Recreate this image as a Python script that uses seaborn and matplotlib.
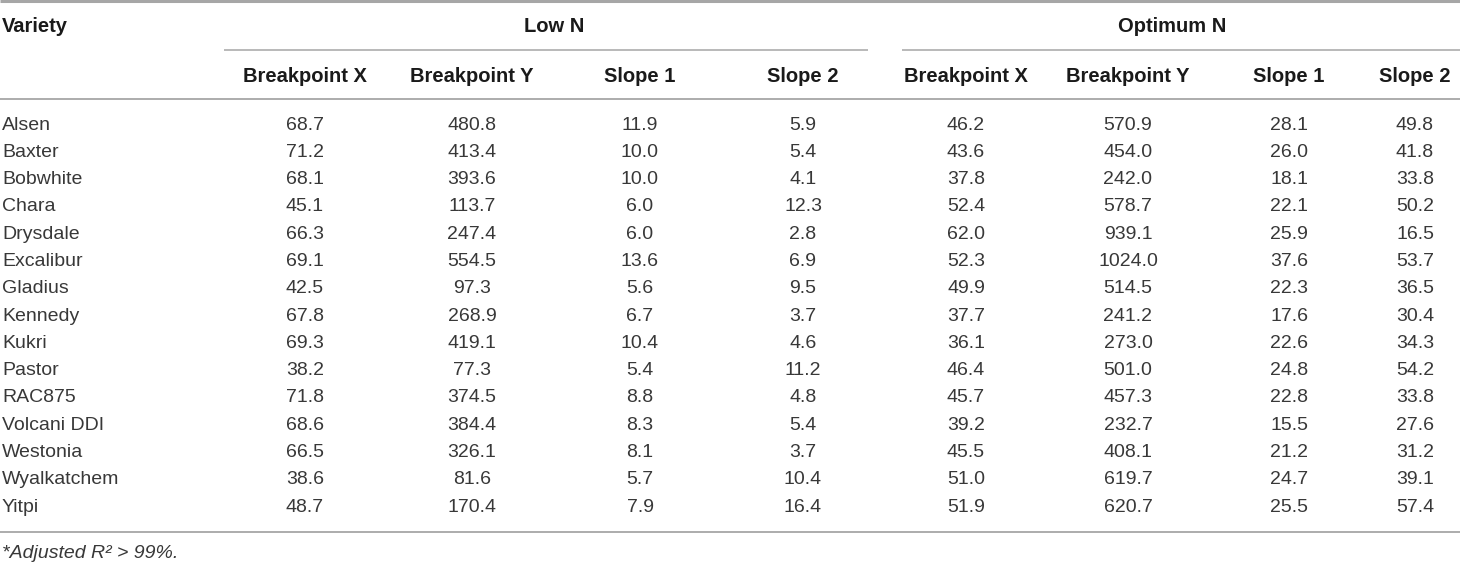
import seaborn as sns
import matplotlib.pyplot as plt
import pandas as pd

varieties = ['Alsen', 'Baxter', 'Bobwhite', 'Chara', 'Drysdale', 'Excalibur', 'Gladius',
             'Kennedy', 'Kukri', 'Pastor', 'RAC875', 'Volcani DDI', 'Westonia',
             'Wyalkatchem', 'Yitpi']
low_bx = [68.7, 71.2, 68.1, 45.1, 66.3, 69.1, 42.5, 67.8, 69.3, 38.2, 71.8, 68.6, 66.5, 38.6, 48.7]
low_by = [480.8, 413.4, 393.6, 113.7, 247.4, 554.5, 97.3, 268.9, 419.1, 77.3, 374.5, 384.4, 326.1, 81.6, 170.4]
low_s1 = [11.9, 10.0, 10.0, 6.0, 6.0, 13.6, 5.6, 6.7, 10.4, 5.4, 8.8, 8.3, 8.1, 5.7, 7.9]
low_s2 = [5.9, 5.4, 4.1, 12.3, 2.8, 6.9, 9.5, 3.7, 4.6, 11.2, 4.8, 5.4, 3.7, 10.4, 16.4]
opt_bx = [46.2, 43.6, 37.8, 52.4, 62.0, 52.3, 49.9, 37.7, 36.1, 46.4, 45.7, 39.2, 45.5, 51.0, 51.9]
opt_by = [570.9, 454.0, 242.0, 578.7, 939.1, 1024.0, 514.5, 241.2, 273.0, 501.0, 457.3, 232.7, 408.1, 619.7, 620.7]
opt_s1 = [28.1, 26.0, 18.1, 22.1, 25.9, 37.6, 22.3, 17.6, 22.6, 24.8, 22.8, 15.5, 21.2, 24.7, 25.5]
opt_s2 = [49.8, 41.8, 33.8, 50.2, 16.5, 53.7, 36.5, 30.4, 34.3, 54.2, 33.8, 27.6, 31.2, 39.1, 57.4]

groups = ['Low N', 'Optimum N']
sub_headers = ['Breakpoint X', 'Breakpoint Y', 'Slope 1', 'Slope 2']
footnote = '*Adjusted R\u00b2 > 99%.'

df = pd.DataFrame({
    'Low N|Breakpoint X': low_bx, 'Low N|Breakpoint Y': low_by,
    'Low N|Slope 1': low_s1, 'Low N|Slope 2': low_s2,
    'Optimum N|Breakpoint X': opt_bx, 'Optimum N|Breakpoint Y': opt_by,
    'Optimum N|Slope 1': opt_s1, 'Optimum N|Slope 2': opt_s2,
}, index=varieties)

sns.set_theme(style='white')
plt.rcParams['font.family'] = ['Liberation Sans', 'DejaVu Sans']

fig = plt.figure(figsize=(14.6, 5.64), dpi=100)
ax = fig.add_axes([0, 0, 1, 1])
ax.set_xlim(0, 1460)
ax.set_ylim(564, 0)
ax.axis('off')

# layout in pixel units
col_x = [305, 472, 640, 803, 966, 1128, 1289, 1415]
group_x = [554, 1172]
group_span = [(224, 868), (902, 1460)]
row_y0, row_dy = 125, 27.3
fs = 14
fs_head = 14.5
body_col = '#383838'
head_col = '#1a1a1a'
rule_col = '#a6a6a6'

ax.hlines(1.2, 0, 1460, color=rule_col, lw=2.2)
for (a, b) in group_span:
    ax.hlines(50, a, b, color=rule_col, lw=1.1)
ax.hlines(99, 0, 1460, color=rule_col, lw=1.3)

ax.text(2, 27, 'Variety', ha='left', va='center', fontsize=fs_head, fontweight='bold', color=head_col)
for g, gx in zip(groups, group_x):
    ax.text(gx, 27, g, ha='center', va='center', fontsize=fs_head, fontweight='bold', color=head_col)
for i, x in enumerate(col_x):
    ax.text(x, 76, sub_headers[i % 4], ha='center', va='center', fontsize=fs_head,
            fontweight='bold', color=head_col)

for r, name in enumerate(df.index):
    y = row_y0 + r * row_dy
    ax.text(2, y, name, ha='left', va='center', fontsize=fs, color=body_col)
    for c, x in enumerate(col_x):
        ax.text(x, y, f'{df.iloc[r, c]:.1f}', ha='center', va='center', fontsize=fs, color=body_col)

y_last = row_y0 + (len(varieties) - 1) * row_dy
ax.hlines(y_last + 25, 0, 1460, color=rule_col, lw=1.3)
ax.text(2, y_last + 46, footnote, ha='left', va='center', fontsize=fs,
        style='italic', color=body_col)

plt.savefig('out.png', dpi=100)
